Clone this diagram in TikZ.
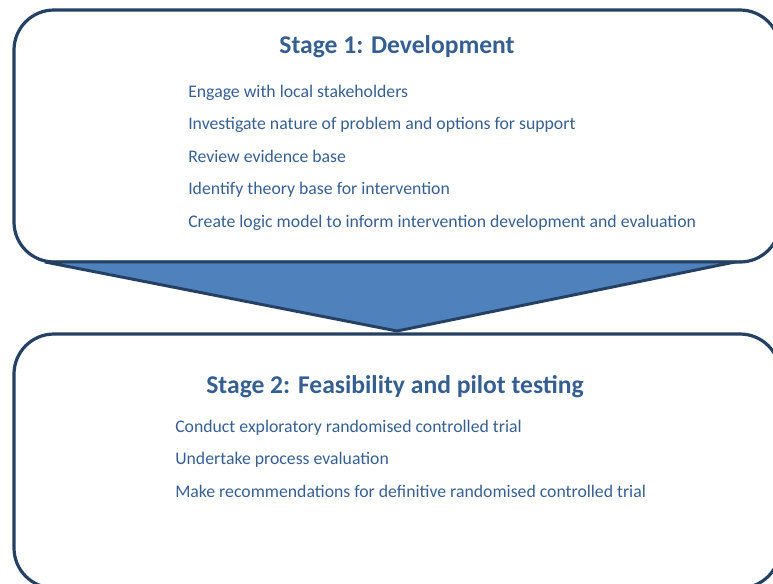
\documentclass[tikz,border=0pt]{standalone}
\usepackage{fontspec}
\setmainfont{Carlito}
\definecolor{outln}{RGB}{36,64,98}
\definecolor{arrfill}{RGB}{79,129,189}
\definecolor{txt}{RGB}{54,95,145}
\begin{document}
\begin{tikzpicture}[x=0.75pt,y=-0.75pt,
  stagebox/.style={draw=outln,line width=2.4pt,rounded corners=30pt,rectangle,inner sep=0pt},
  titletext/.style={anchor=base,text=txt,font=\fontsize{19.2}{22}\selectfont\bfseries,inner sep=0pt},
  itemtext/.style={anchor=base west,text=txt,font=\fontsize{13.3}{16}\selectfont,inner sep=0pt}]
\useasboundingbox (0,0) rectangle (773,583);
% stage boxes
\node[stagebox,minimum width=574.5pt,minimum height=189pt] (box1) at (397,136) {};
\node[stagebox,minimum width=574.5pt,minimum height=190.5pt] (box2) at (397,461) {};
% arrow
\coordinate (al) at (45,262);
\coordinate (ar) at (735,262);
\coordinate (at) at (397,331);
\draw[draw=outln,fill=arrfill,line width=2.2pt,line join=miter] (al) -- (ar) -- (at) -- cycle;
% texts
\node[titletext] (t1) at (397,53) {Stage 1: Development};
\node[itemtext] (i11) at (188,97) {Engage with local stakeholders};
\node[itemtext] (i12) at (188,129.5) {Investigate nature of problem and options for support};
\node[itemtext] (i13) at (188,162) {Review evidence base};
\node[itemtext] (i14) at (188,194.5) {Identify theory base for intervention};
\node[itemtext] (i15) at (188,227) {Create logic model to inform intervention development and evaluation};
\node[titletext] (t2) at (395,393) {Stage 2: Feasibility and pilot testing};
\node[itemtext] (i21) at (175,432) {Conduct exploratory randomised controlled trial};
\node[itemtext] (i22) at (175,464.5) {Undertake process evaluation};
\node[itemtext] (i23) at (175,497) {Make recommendations for definitive randomised controlled trial};
\end{tikzpicture}
\end{document}
